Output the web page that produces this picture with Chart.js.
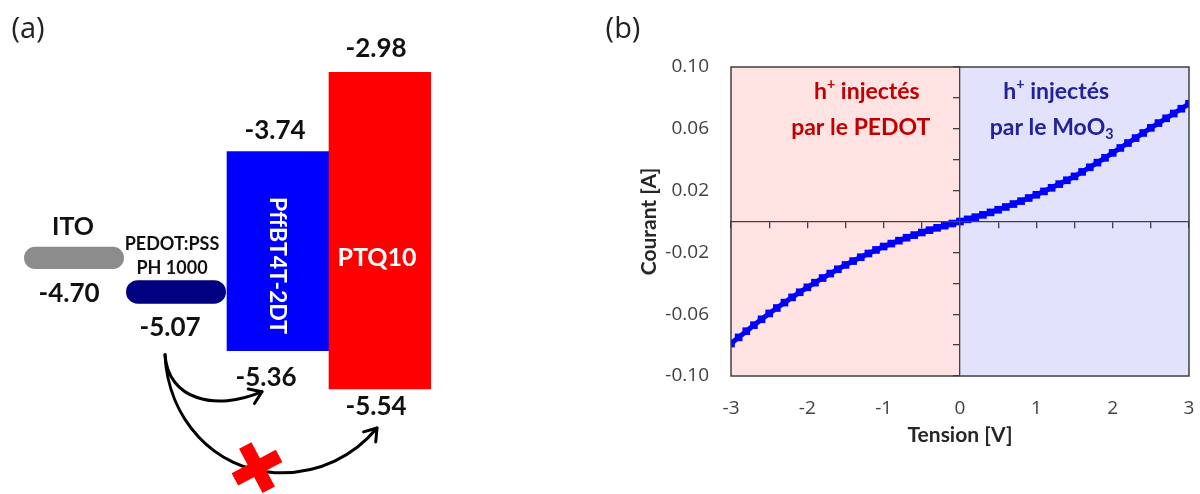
<!DOCTYPE html>
<html lang="fr">
<head>
<meta charset="UTF-8" />
<title>Niveaux d'énergie et courbe I(V)</title>
<script src="https://cdn.jsdelivr.net/npm/chart.js"></script>
<style>
  body { margin: 0; background: #fff; }
  .panel { position: absolute; top: 0; width: 600px; height: 494px; }
  #panelA { left: 0; }
  #panelB { left: 600px; }
</style>
</head>
<body>

<div class="panel" id="panelA"><canvas id="levelsChart" width="600" height="494"></canvas></div>
<div class="panel" id="panelB"><canvas id="ivChart" width="600" height="494"></canvas></div>

<script>
  // (a) energy levels in eV, as drawn on the schematic (not to scale in the original)
  const layers = ['ITO', 'PEDOT:PSS', 'PffBT4T-2DT', 'PTQ10'];
  const electrodeLevels = [[-4.57, -4.39], [-4.85, -4.66], null, null];
  const bandLevels = [null, null, [-5.23, -3.62], [-5.54, -2.98]];
  const lowerLabels = ['-4.70', '-5.07', '-5.36', '-5.54'];
  const upperLabels = ['', '', '-3.74', '-2.98'];
  const layerColors = ['#8c8c8c', '#000080', '#0000ff', '#ff0000'];

  // (b) I(V) curve
  const tension = [
    -3.0, -2.9, -2.8, -2.7, -2.6, -2.5, -2.4, -2.3, -2.2, -2.1,
    -2.0, -1.9, -1.8, -1.7, -1.6, -1.5, -1.4, -1.3, -1.2, -1.1,
    -1.0, -0.9, -0.8, -0.7, -0.6, -0.5, -0.4, -0.3, -0.2, -0.1,
    0.0, 0.1, 0.2, 0.3, 0.4, 0.5, 0.6, 0.7, 0.8, 0.9,
    1.0, 1.1, 1.2, 1.3, 1.4, 1.5, 1.6, 1.7, 1.8, 1.9,
    2.0, 2.1, 2.2, 2.3, 2.4, 2.5, 2.6, 2.7, 2.8, 2.9, 3.0
  ];
  const courant = [
    -0.0790, -0.0750, -0.0710, -0.0671, -0.0633, -0.0595, -0.0560, -0.0525, -0.0491, -0.0458,
    -0.0426, -0.0396, -0.0366, -0.0337, -0.0309, -0.0281, -0.0256, -0.0231, -0.0207, -0.0184,
    -0.0162, -0.0143, -0.0124, -0.0105, -0.0088, -0.0071, -0.0056, -0.0041, -0.0027, -0.0013,
    0.0000, 0.0014, 0.0028, 0.0043, 0.0059, 0.0076, 0.0094, 0.0113, 0.0132, 0.0152,
    0.0173, 0.0195, 0.0218, 0.0242, 0.0267, 0.0292, 0.0321, 0.0351, 0.0381, 0.0412,
    0.0444, 0.0476, 0.0508, 0.0540, 0.0573, 0.0606, 0.0637, 0.0668, 0.0699, 0.0730, 0.0762
  ];
  const xLabelTicks = [-3, -2, -1, 0, 1, 2, 3];
  const yLabelTicks = [-0.10, -0.06, -0.02, 0.02, 0.06, 0.10];
  const xMinorTicks = [-3, -2.5, -2, -1.5, -1, -0.5, 0, 0.5, 1, 1.5, 2, 2.5, 3];
  const yMinorTicks = [-0.10, -0.08, -0.06, -0.04, -0.02, 0, 0.02, 0.04, 0.06, 0.08, 0.10];

  const LATO = 'Lato, "Open Sans", sans-serif';

  function text(ctx, str, x, y, size, color, weight, family) {
    ctx.save();
    ctx.font = (weight || 'bold') + ' ' + size + 'px ' + (family || LATO);
    ctx.fillStyle = color;
    ctx.textAlign = 'center';
    ctx.textBaseline = 'middle';
    ctx.fillText(str, x, y);
    ctx.restore();
  }

  // parts: [string, shift] where shift 1 = superscript, -1 = subscript
  function richText(ctx, parts, cx, cy, size, color) {
    ctx.save();
    ctx.fillStyle = color;
    ctx.textBaseline = 'middle';
    ctx.textAlign = 'left';
    let total = 0;
    const widths = parts.map(([s, shift]) => {
      ctx.font = 'bold ' + (shift ? size * 0.62 : size) + 'px ' + LATO;
      const w = ctx.measureText(s).width;
      total += w;
      return w;
    });
    let x = cx - total / 2;
    parts.forEach(([s, shift], i) => {
      ctx.font = 'bold ' + (shift ? size * 0.62 : size) + 'px ' + LATO;
      const dy = shift === 1 ? -size * 0.3 : shift === -1 ? size * 0.28 : 0;
      ctx.fillText(s, x, cy + dy);
      x += widths[i];
    });
    ctx.restore();
  }

  function arrowHead(ctx, x, y, angle) {
    const len = 14, spread = 0.6;
    ctx.beginPath();
    ctx.moveTo(x - len * Math.cos(angle - spread), y - len * Math.sin(angle - spread));
    ctx.lineTo(x, y);
    ctx.lineTo(x - len * Math.cos(angle + spread), y - len * Math.sin(angle + spread));
    ctx.stroke();
  }

  function edges(el) {
    return { x: el.x, top: Math.min(el.y, el.base), bottom: Math.max(el.y, el.base) };
  }

  const levelsPlugin = {
    id: 'levelsText',
    afterDatasetsDraw(chart) {
      const ctx = chart.ctx;
      const pills = chart.getDatasetMeta(0).data;
      const bands = chart.getDatasetMeta(1).data;
      const ito = edges(pills[0]), ped = edges(pills[1]);
      const blue = edges(bands[2]), red = edges(bands[3]);

      text(ctx, '(a)', 28, 30, 29, '#222', 'normal', '"Open Sans", sans-serif');

      text(ctx, layers[0], ito.x - 1, ito.top - 20, 25, '#111');
      text(ctx, lowerLabels[0], ito.x - 5, ito.bottom + 25, 26, '#111');
      text(ctx, 'PEDOT:PSS', ped.x - 4, ped.top - 36, 18, '#111');
      text(ctx, 'PH 1000', ped.x - 4, ped.top - 12, 18, '#111');
      text(ctx, lowerLabels[1], ped.x - 6, ped.bottom + 24, 26, '#111');
      text(ctx, upperLabels[2], blue.x - 3, blue.top - 21, 26, '#111');
      text(ctx, lowerLabels[2], blue.x - 12, blue.bottom + 27, 26, '#111');
      text(ctx, upperLabels[3], red.x - 4, red.top - 24, 26, '#111');
      text(ctx, lowerLabels[3], red.x - 4, red.bottom + 18, 26, '#111');
      text(ctx, layers[3], red.x - 3, red.top + 186, 25, '#fff');

      ctx.save();
      ctx.translate(blue.x - 1, blue.top + 114);
      ctx.rotate(Math.PI / 2);
      text(ctx, layers[2], 0, 0, 23, '#fff');
      ctx.restore();

      // hole injection arrows
      const sx = ped.x - 11, sy = ped.bottom + 51;
      ctx.save();
      ctx.strokeStyle = '#000';
      ctx.lineWidth = 3;
      ctx.lineCap = 'round';
      ctx.lineJoin = 'round';

      const e1x = blue.x - 16, e1y = blue.bottom + 41;
      ctx.beginPath();
      ctx.moveTo(sx, sy);
      ctx.bezierCurveTo(sx + 3, sy + 45, sx + 50, sy + 57, e1x, e1y);
      ctx.stroke();
      arrowHead(ctx, e1x, e1y, Math.atan2(e1y - (sy + 57), e1x - (sx + 50)));

      const mx = sx + 110, my = sy + 118;
      const e2x = red.x - 3, e2y = red.bottom + 39;
      ctx.beginPath();
      ctx.moveTo(sx, sy);
      ctx.bezierCurveTo(sx + 3, sy + 65, sx + 50, sy + 115, mx, my);
      ctx.bezierCurveTo(mx + 45, my + 2, mx + 80, my - 18, e2x, e2y);
      ctx.stroke();
      arrowHead(ctx, e2x, e2y, Math.atan2(e2y - (my - 18), e2x - (mx + 80)));
      ctx.restore();

      // blocked path
      ctx.save();
      ctx.translate(sx + 92, sy + 113);
      ctx.rotate(-28 * Math.PI / 180);
      ctx.fillStyle = '#ff0000';
      ctx.fillRect(-25, -7, 50, 14);
      ctx.fillRect(-7, -25, 14, 50);
      ctx.restore();
    }
  };

  new Chart(document.getElementById('levelsChart'), {
    type: 'bar',
    data: {
      labels: layers,
      datasets: [
        {
          data: electrodeLevels,
          backgroundColor: layerColors,
          borderRadius: 12,
          borderSkipped: false,
          barPercentage: 0.98,
          categoryPercentage: 1,
          grouped: false
        },
        {
          data: bandLevels,
          backgroundColor: layerColors,
          borderRadius: 0,
          borderSkipped: false,
          barPercentage: 1,
          categoryPercentage: 1,
          grouped: false
        }
      ]
    },
    options: {
      responsive: false,
      animation: false,
      layout: { padding: { left: 23, right: 169, top: 13, bottom: 11 } },
      plugins: { legend: { display: false }, tooltip: { enabled: false } },
      scales: {
        x: { display: false },
        y: { display: false, min: -6.3, max: -2.5 }
      }
    },
    plugins: [levelsPlugin]
  });

  const ivPlugin = {
    id: 'ivText',
    afterDatasetsDraw(chart) {
      const { ctx, chartArea, scales: { x, y } } = chart;
      ctx.save();
      ctx.strokeStyle = '#404040';
      ctx.lineWidth = 1.5;
      ctx.strokeRect(chartArea.left, chartArea.top, chartArea.right - chartArea.left, chartArea.bottom - chartArea.top);
      ctx.restore();

      const red = '#c00000', navy = '#22229a';
      richText(ctx, [['h', 0], ['+', 1], [' injectés', 0]], x.getPixelForValue(-1.22), y.getPixelForValue(0.084), 23, red);
      richText(ctx, [['par le PEDOT', 0]], x.getPixelForValue(-1.3), y.getPixelForValue(0.0605), 23, red);
      richText(ctx, [['h', 0], ['+', 1], [' injectés', 0]], x.getPixelForValue(1.26), y.getPixelForValue(0.084), 23, navy);
      richText(ctx, [['par le MoO', 0], ['3', -1]], x.getPixelForValue(1.2), y.getPixelForValue(0.0605), 23, navy);

      text(ctx, '(b)', 23, 30, 29, '#222', 'normal', '"Open Sans", sans-serif');
    }
  };

  const tickFont = { family: '"Open Sans", sans-serif', size: 19 };
  const titleFont = { family: LATO, size: 21, weight: 'bold' };
  const zeroGrid = { drawOnChartArea: false, drawTicks: true, tickLength: 6, color: '#404040', lineWidth: 1.3, z: 1 };
  const zeroBorder = { display: true, color: '#404040', width: 1.3, z: 1 };

  new Chart(document.getElementById('ivChart'), {
    type: 'scatter',
    data: {
      datasets: [
        {
          data: [{ x: -3, y: 0.1 }, { x: 0, y: 0.1 }],
          showLine: true, fill: 'start', backgroundColor: '#ffe2e2',
          borderWidth: 0, pointRadius: 0, order: 5
        },
        {
          data: [{ x: 0, y: 0.1 }, { x: 3, y: 0.1 }],
          showLine: true, fill: 'start', backgroundColor: '#e2e2fd',
          borderWidth: 0, pointRadius: 0, order: 5
        },
        {
          data: tension.map((v, i) => ({ x: v, y: courant[i] })),
          showLine: true,
          borderColor: '#0000ff',
          backgroundColor: '#0000ff',
          borderWidth: 5,
          pointStyle: 'rect',
          pointRadius: 5.4,
          pointBorderWidth: 0,
          order: 0
        }
      ]
    },
    options: {
      responsive: false,
      animation: false,
      layout: { padding: { top: 67, right: 11, left: 0, bottom: 0 } },
      plugins: { legend: { display: false }, tooltip: { enabled: false } },
      scales: {
        x: {
          type: 'linear', position: 'bottom', min: -3, max: 3,
          afterBuildTicks: s => { s.ticks = xLabelTicks.map(v => ({ value: v })); },
          afterFit: s => { s.height = 118; },
          grid: { display: false, drawTicks: true, tickLength: 21 },
          border: { display: false },
          ticks: { padding: 0, color: '#404040', font: tickFont, callback: v => String(v) },
          title: { display: true, text: 'Tension [V]', color: '#262626', font: titleFont, padding: { top: 0, bottom: 46 } }
        },
        y: {
          type: 'linear', position: 'left', min: -0.1, max: 0.1,
          afterBuildTicks: s => { s.ticks = yLabelTicks.map(v => ({ value: v })); },
          afterFit: s => { s.width = 131; },
          grid: { display: false, drawTicks: false },
          border: { display: false },
          ticks: { padding: 22, color: '#404040', font: tickFont, callback: v => v.toFixed(2) },
          title: { display: true, text: 'Courant [A]', color: '#262626', font: titleFont, padding: { top: 37, bottom: 0 } }
        },
        x0: {
          type: 'linear', axis: 'x', position: { y: 0 }, min: -3, max: 3,
          afterBuildTicks: s => { s.ticks = xMinorTicks.map(v => ({ value: v })); },
          ticks: { display: false },
          grid: zeroGrid,
          border: zeroBorder
        },
        y0: {
          type: 'linear', axis: 'y', position: { x: 0 }, min: -0.1, max: 0.1,
          afterBuildTicks: s => { s.ticks = yMinorTicks.map(v => ({ value: v })); },
          ticks: { display: false },
          grid: zeroGrid,
          border: zeroBorder
        }
      }
    },
    plugins: [ivPlugin]
  });
</script>

</body>
</html>
